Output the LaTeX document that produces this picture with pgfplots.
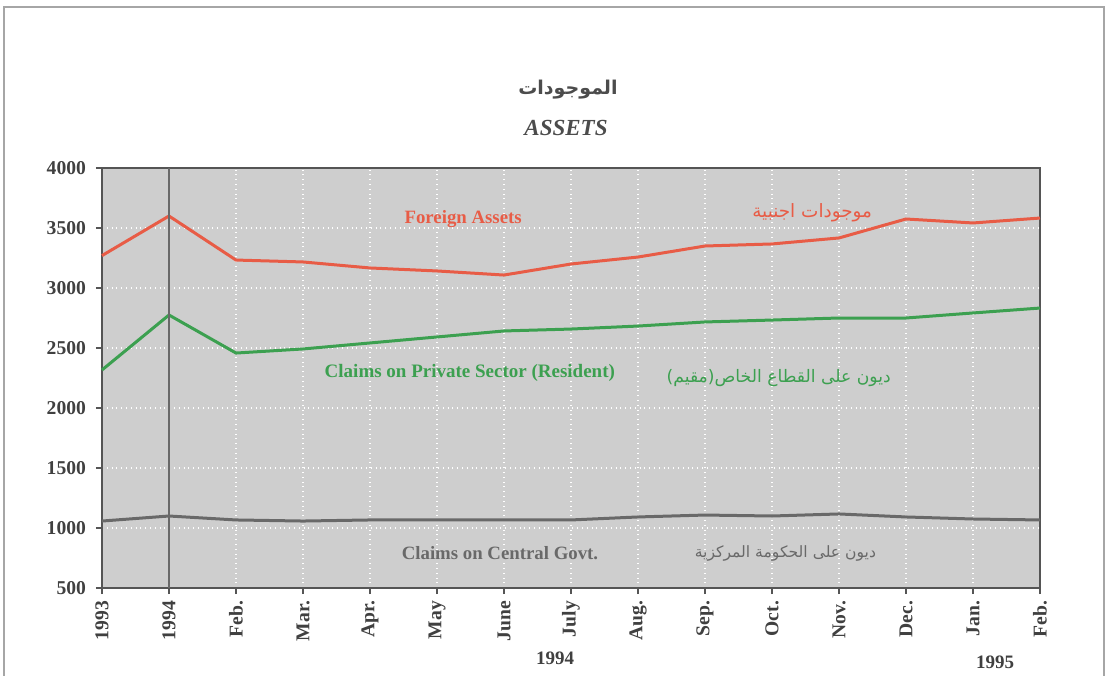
\documentclass[border=0pt]{standalone}
\usepackage{fontspec}
\setmainfont{Liberation Serif}
\newfontfamily\arabicfont[Script=Arabic]{DejaVu Sans}
\TeXXeTstate=1
\usepackage{pgfplots}
\pgfplotsset{compat=1.18}
\definecolor{fred}{RGB}{232,92,70}
\definecolor{fgreen}{RGB}{60,160,80}
\definecolor{fgray}{RGB}{105,105,105}
\definecolor{bgfill}{RGB}{206,206,206}
\definecolor{axcol}{RGB}{85,85,85}
\begin{document}
\begin{tikzpicture}[x=0.5pt,y=0.5pt]
\useasboundingbox (0,0) rectangle (1108,675);
\draw[gray!70, line width=0.8pt] (4,-5) -- (4,668) -- (1104,668) -- (1104,-5);
\begin{axis}[
  at={(51pt,43.5pt)}, anchor=south west,
  scale only axis, width=469pt, height=210pt,
  xmin=0, xmax=14, ymin=500, ymax=4000,
  xtick={0,...,14},
  xticklabels={1993,1994,Feb.,Mar.,Apr.,May,June,July,Aug.,Sep.,Oct.,Nov.,Dec.,Jan.,Feb.},
  ytick={500,1000,...,4000},
  xtick pos=bottom, ytick pos=left,
  /pgf/number format/assume math mode=true,
  /pgf/number format/1000 sep={},
  xticklabel style={rotate=90, anchor=east, font=\bfseries\fontsize{9.8}{11}\selectfont, text=black!75},
  yticklabel style={font=\bfseries\fontsize{9.8}{11}\selectfont, text=black!75, xshift=-1.5pt},
  tick align=outside, major tick length=3pt,
  tick style={axcol, line width=0.6pt},
  axis line style={axcol, line width=0.8pt},
  axis background/.style={fill=bgfill},
  grid=major, major grid style={white, dotted, line width=0.9pt},
  clip=false,
]
\addplot[fred, line width=1.5pt] coordinates {
(0,3270) (1,3600) (2,3233) (3,3217) (4,3167) (5,3142) (6,3108) (7,3200) (8,3258) (9,3350) (10,3367) (11,3417) (12,3575) (13,3542) (14,3583)};
\addplot[fgreen, line width=1.5pt] coordinates {
(0,2317) (1,2775) (2,2458) (3,2492) (4,2542) (5,2592) (6,2642) (7,2658) (8,2683) (9,2717) (10,2733) (11,2750) (12,2750) (13,2792) (14,2833)};
\addplot[fgray, line width=1.5pt] coordinates {
(0,1058) (1,1100) (2,1067) (3,1058) (4,1067) (5,1067) (6,1067) (7,1067) (8,1092) (9,1108) (10,1100) (11,1117) (12,1092) (13,1075) (14,1067)};
\addplot[fgray, line width=1.2pt] coordinates {(1,500) (1,4000)};
\node[text=fred, font=\bfseries\fontsize{9.4}{11}\selectfont] at (axis cs:5.39,3575) {Foreign Assets};
\node[text=fred, font=\arabicfont\fontsize{9.2}{11}\selectfont] at (axis cs:10.6,3625) {\beginR موجودات اجنبية\endR};
\node[text=fgreen, font=\bfseries\fontsize{9.5}{11}\selectfont] at (axis cs:5.49,2292) {Claims on Private Sector (Resident)};
\node[text=fgreen, font=\arabicfont\fontsize{8.6}{10}\selectfont] at (axis cs:10.1,2250) {\beginR ديون على القطاع الخاص(مقيم)\endR};
\node[text=fgray, font=\bfseries\fontsize{9.4}{11}\selectfont] at (axis cs:5.94,790) {Claims on Central Govt.};
\node[text=fgray, font=\arabicfont\fontsize{7.8}{10}\selectfont] at (axis cs:10.2,790) {\beginR ديون على الحكومة المركزية\endR};
\end{axis}
\node[text=black!75, font=\bfseries\fontsize{9.5}{11}\selectfont] at (555,17) {1994};
\node[text=black!75, font=\bfseries\fontsize{9.5}{11}\selectfont] at (995,13) {1995};
\node[text=black!70, font=\arabicfont\bfseries\fontsize{9.5}{12}\selectfont] at (568,585) {\beginR الموجودات\endR};
\node[text=black!70, font=\bfseries\itshape\fontsize{11.5}{13}\selectfont] at (566,547) {ASSETS};
\end{tikzpicture}
\end{document}
